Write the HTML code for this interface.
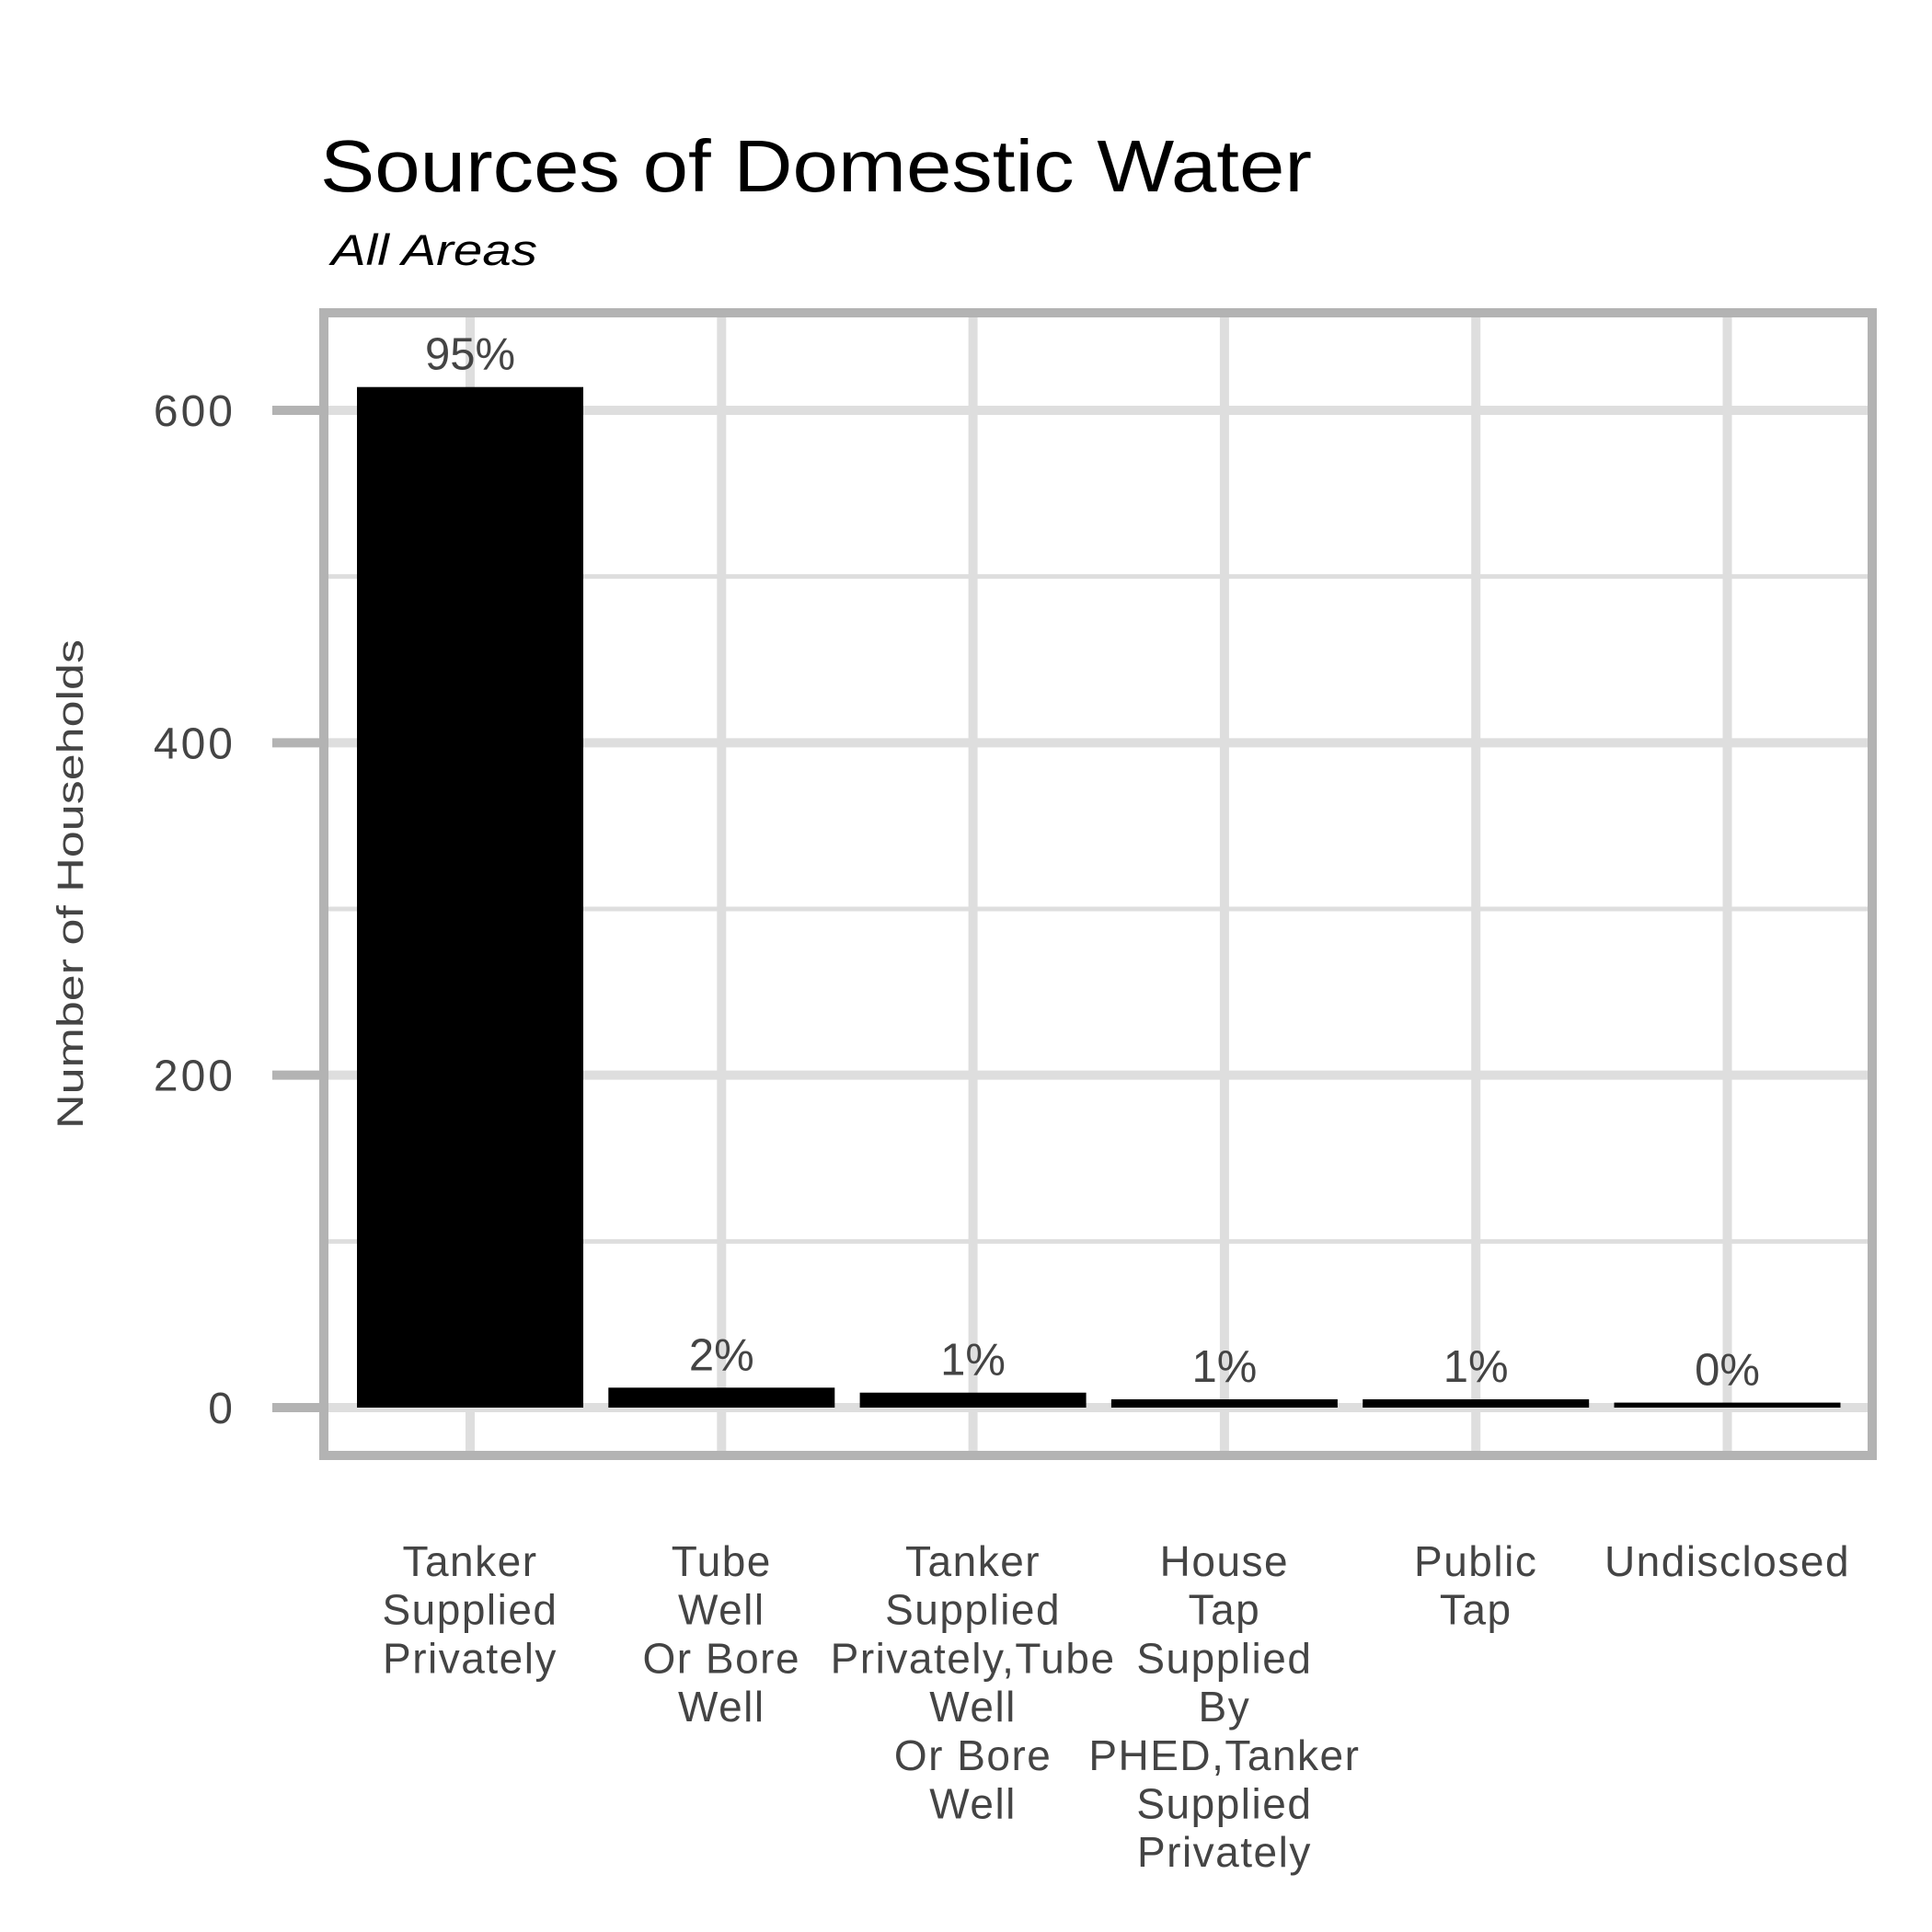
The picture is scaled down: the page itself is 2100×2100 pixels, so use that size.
<!DOCTYPE html>
<html><head><meta charset="utf-8"><style>
html,body{margin:0;padding:0;background:#fff;}
svg{display:block;font-family:"Liberation Sans",sans-serif;}
</style></head><body>
<svg id="chart" width="2100" height="2100" viewBox="0 0 2100 2100">
<text x="348" y="208" font-size="80" fill="#000" textLength="1078" lengthAdjust="spacingAndGlyphs">Sources of Domestic Water</text>
<text x="360" y="288" font-size="47" font-style="italic" fill="#000" textLength="224" lengthAdjust="spacingAndGlyphs">All Areas</text>
<text transform="translate(90,961) rotate(-90)" text-anchor="middle" font-size="40" fill="#444" textLength="532" lengthAdjust="spacingAndGlyphs">Number of Households</text>
<g id="grid"></g>
<g id="bars"></g>
<g id="labels"></g>
<rect x="352" y="340" width="1683" height="1242" fill="none" stroke="#b3b3b3" stroke-width="10"/>
</svg>
<script>
const categories = [
  ["Tanker","Supplied","Privately"],
  ["Tube","Well","Or Bore","Well"],
  ["Tanker","Supplied","Privately,Tube","Well","Or Bore","Well"],
  ["House","Tap","Supplied","By","PHED,Tanker","Supplied","Privately"],
  ["Public","Tap"],
  ["Undisclosed"]
];
const values = [614, 12, 9, 5, 5, 3];
const pctLabels = ["95%","2%","1%","1%","1%","0%"];
const yTicks = [0, 200, 400, 600];
const yMinor = [100, 300, 500];

const NS = "http://www.w3.org/2000/svg";
const y = v => 1530 - v * (1530 - 446) / 600;
const x = i => 511 + i * 273.3;
const barW = 246;
function mk(tag, attrs, parent, txt){
  const e = document.createElementNS(NS, tag);
  for (const k in attrs) e.setAttribute(k, attrs[k]);
  if (txt !== undefined) e.textContent = txt;
  parent.appendChild(e);
  return e;
}
const grid = document.getElementById('grid');
const bars = document.getElementById('bars');
const labels = document.getElementById('labels');
yMinor.forEach(v => {
  const l = mk('line', {x1:352, x2:2035, y1:y(v), y2:y(v), stroke:'#dedede', 'stroke-width':5}, grid);
  
  
});
yTicks.forEach(v => {
  const l = mk('line', {x1:352, x2:2035, y1:y(v), y2:y(v), stroke:'#dedede', 'stroke-width':10}, grid);
  
  
  const t = mk('line', {x1:296, x2:352, y1:y(v), y2:y(v), stroke:'#b3b3b3', 'stroke-width':10}, grid);
  
  
  const tx = mk('text', {x:256, y:y(v)+17, 'text-anchor':'end', 'font-size':48, fill:'#444', 'letter-spacing':3}, labels, String(v));
  
  
});
categories.forEach((c, i) => {
  const g = mk('line', {x1:x(i), x2:x(i), y1:340, y2:1582, stroke:'#dedede', 'stroke-width':10}, grid);
  
  
});
values.forEach((v, i) => {
  const r = mk('rect', {x:x(i)-barW/2, y:y(v), width:barW, height:y(0)-y(v), fill:'#000'}, bars);
  
  
  const t = mk('text', {x:x(i), y:y(v)-19, 'text-anchor':'middle', 'font-size':49, fill:'#444'}, labels, pctLabels[i]);
  
  
});
categories.forEach((lines, i) => {
  const t = mk('text', {'text-anchor':'middle', 'font-size':46, fill:'#444', 'letter-spacing':1.5}, labels);
  
  
  lines.forEach((s, j) => {
    mk('tspan', {x:x(i), y:1713 + j*52.7}, t, s);
  });
});
</script>
</body></html>
